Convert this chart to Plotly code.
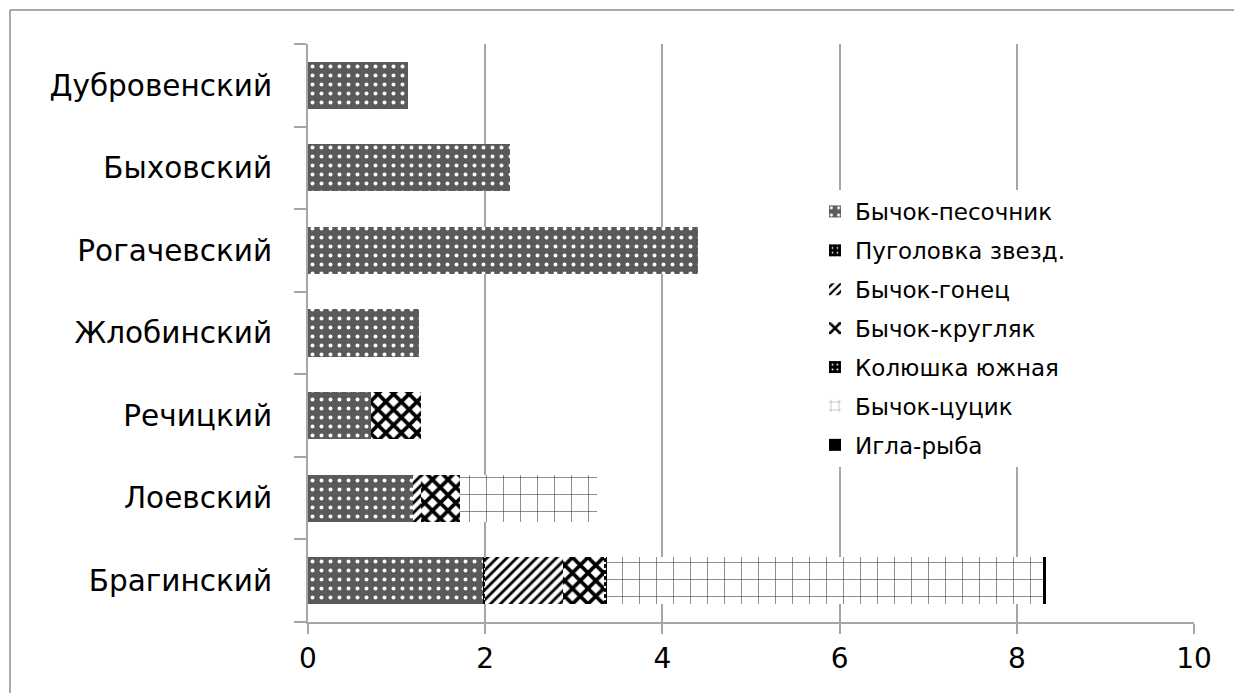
import plotly.graph_objects as go

categories = ["Брагинский", "Лоевский", "Речицкий", "Жлобинский",
              "Рогачевский", "Быховский", "Дубровенский"]
series_names = ["Бычок-песочник", "Пуголовка звезд.", "Бычок-гонец",
                "Бычок-кругляк", "Колюшка южная", "Бычок-цуцик", "Игла-рыба"]
pesochnik = [1.97, 1.19, 0.71, 1.25, 4.40, 2.28, 1.13]
pugolovka = [0.03, None, None, None, None, None, None]
gonets = [0.88, 0.09, None, None, None, None, None]
kruglyak = [0.46, 0.44, 0.57, None, None, None, None]
kolyushka = [0.04, None, None, None, None, None, None]
tsutsik = [4.92, 1.54, None, None, None, None, None]
igla = [0.03, None, None, None, None, None, None]
x_ticks = [0, 2, 4, 6, 8, 10]

series_values = [pesochnik, pugolovka, gonets, kruglyak, kolyushka, tsutsik, igla]

patterns = [
    dict(shape=".", bgcolor="#5a5a5a", fgcolor="white", size=9, solidity=0.15, fillmode="replace"),
    dict(shape=".", bgcolor="black", fgcolor="white", size=6, solidity=0.1, fillmode="replace"),
    dict(shape="/", bgcolor="white", fgcolor="black", size=7, solidity=0.4, fillmode="replace"),
    dict(shape="x", bgcolor="white", fgcolor="black", size=11, solidity=0.55, fillmode="replace"),
    dict(shape=".", bgcolor="black", fgcolor="white", size=6, solidity=0.12, fillmode="replace"),
    dict(shape="+", bgcolor="white", fgcolor="#444444", size=17, solidity=0.07, fillmode="replace"),
    dict(shape="", bgcolor="black", fgcolor="black", fillmode="replace"),
]
colors = ["#5a5a5a", "black", "white", "white", "black", "white", "black"]

FONT = "DejaVu Sans"

fig = go.Figure()
for i, (name, vals) in enumerate(zip(series_names, series_values)):
    fig.add_trace(go.Bar(
        y=categories, x=vals, name=name, orientation="h",
        legendgroup=f"g{i}",
        width=0.57,
        marker=dict(color=colors[i], pattern=patterns[i], line=dict(width=0)),
    ))

W, H = 1234, 693
ml, mr, mt, mb = 308, 40, 44, 71
pw = W - ml - mr
ph = H - mt - mb

frame_left = (10 - ml) / pw
frame_top = 1 + (mt - 10) / ph
frame_right = (W + 20 - ml) / pw
frame_bottom = (622 - (H + 20)) / ph

fig.update_layout(
    width=W, height=H,
    barmode="stack",
    paper_bgcolor="white",
    plot_bgcolor="white",
    margin=dict(l=ml, r=mr, t=mt, b=mb, autoexpand=False),
    font=dict(family=FONT, color="black", size=24),
    showlegend=True,
    legend=dict(
        x=(815 - ml) / pw, y=(622 - 190) / ph, xanchor="left", yanchor="top",
        traceorder="grouped", tracegroupgap=6,
        bgcolor="white", font=dict(size=23, family=FONT),
        itemsizing="constant",
    ),
    xaxis=dict(
        range=[0, 10], tickvals=x_ticks, ticktext=[str(v) for v in x_ticks],
        showgrid=True, gridcolor="#a6a6a6", gridwidth=2,
        showline=True, linecolor="#a6a6a6", linewidth=2,
        ticks="outside", ticklen=10, tickcolor="#a6a6a6", tickwidth=2,
        tickfont=dict(size=28), zeroline=False, automargin=False,
    ),
    yaxis=dict(
        type="category", categoryorder="array", categoryarray=categories,
        showline=True, linecolor="#a6a6a6", linewidth=2,
        ticks="outside", ticklen=12, tickcolor="#a6a6a6", tickwidth=2,
        tickson="boundaries", showgrid=False, automargin=False,
        tickfont=dict(size=29.5), ticklabelstandoff=28,
    ),
    shapes=[
        dict(type="line", xref="paper", yref="paper",
             x0=frame_left, x1=frame_right, y0=frame_top, y1=frame_top,
             line=dict(color="#8c8c8c", width=1.5), layer="below"),
        dict(type="line", xref="paper", yref="paper",
             x0=frame_left, x1=frame_left, y0=frame_top, y1=frame_bottom,
             line=dict(color="#8c8c8c", width=1.5), layer="below"),
    ],
)

fig.write_html(
    "out.html",
    config={"displayModeBar": False},
    post_script="document.body.style.margin='0';document.body.style.overflow='hidden';",
)
